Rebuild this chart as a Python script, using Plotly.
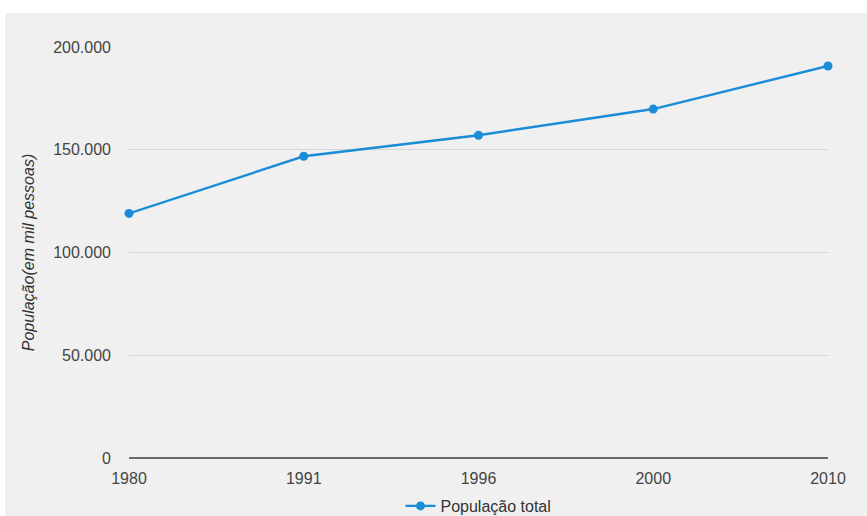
import plotly.graph_objects as go

anos = ["1980", "1991", "1996", "2000", "2010"]
populacao = [119011, 146825, 157070, 169799, 190755]
serie_nome = "População total"
y_tickvals = [0, 50000, 100000, 150000, 200000]
y_ticktext = ["0", "50.000", "100.000", "150.000", "200.000"]
y_titulo = "População(em mil pessoas)"

FONT = "Arial, 'Liberation Sans', sans-serif"
BG = "#f0f0f0"
LINE = "#1a8cd8"

fig = go.Figure()
fig.add_trace(go.Scatter(
    x=anos, y=populacao, name=serie_nome, mode="lines+markers",
    line=dict(color=LINE, width=2.4),
    marker=dict(color=LINE, size=9),
    cliponaxis=False,
))

fig.update_layout(
    width=867, height=516, autosize=False,
    margin=dict(l=129, r=39, t=47, b=58, autoexpand=False),
    paper_bgcolor=BG, plot_bgcolor=BG,
    font=dict(family=FONT, size=16, color="#444444"),
    showlegend=True,
    legend=dict(orientation="h", x=0.5, xanchor="center",
                yref="container", y=(516 - 506) / 516, yanchor="middle",
                font=dict(size=16, color="#333333"), bgcolor="rgba(0,0,0,0)"),
    xaxis=dict(type="category", range=[0, 4], showgrid=False, zeroline=False,
               showline=False, ticks="", ticklabelstandoff=9, automargin=False,
               tickfont=dict(size=16, color="#444444")),
    yaxis=dict(range=[0, 200000], tickvals=y_tickvals, ticktext=y_ticktext,
               showgrid=True, gridcolor="#d6d6d6", gridwidth=1,
               zeroline=True, zerolinecolor="#6a6a6a", zerolinewidth=2,
               showline=False, ticks="", ticklabelstandoff=17, automargin=False,
               tickfont=dict(size=16, color="#444444"),
               title=dict(text=y_titulo, standoff=14,
                          font=dict(size=16, color="#333333", style="italic"))),
    shapes=[
        dict(type="rect", xref="paper", yref="paper", x0=-0.3, x1=1.2,
             y0=(458 - 13) / 411, y1=(458 + 20) / 411,
             fillcolor="white", line=dict(width=0), layer="above"),
        dict(type="rect", xref="paper", yref="paper", x0=(0 - 129) / 699 - 0.05,
             x1=(5 - 129) / 699, y0=-0.3, y1=1.3,
             fillcolor="white", line=dict(width=0), layer="above"),
    ],
)

fig.write_html("out.html")
